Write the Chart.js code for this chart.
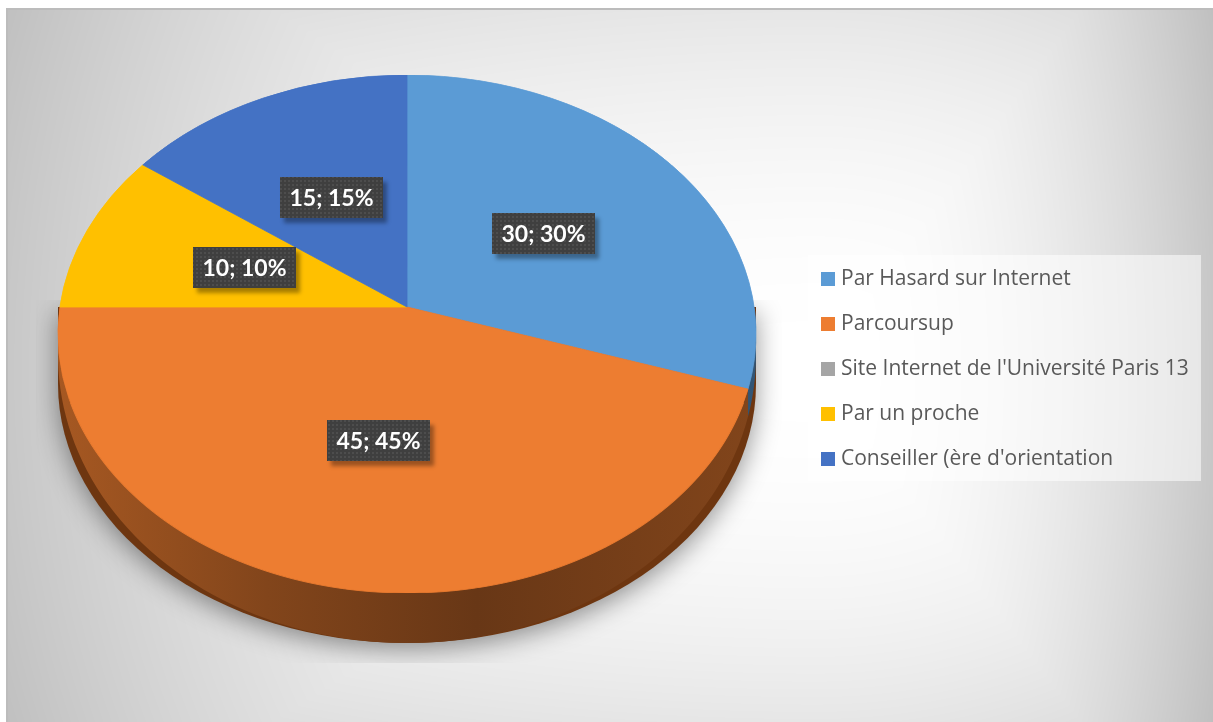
<!DOCTYPE html>
<html>
<head>
<meta charset="utf-8">
<script src="https://cdn.jsdelivr.net/npm/chart.js@4.4.1/dist/chart.umd.min.js"></script>
<style>
  html, body { margin: 0; padding: 0; background: #fff; }
  #wrap { position: relative; width: 1213px; height: 722px; overflow: hidden; }
  #wrap canvas { position: absolute; left: 0; top: 0; }
  #legend {
    position: absolute; left: 808px; top: 255px; width: 393px; height: 226px;
    background: rgba(255,255,255,0.55); box-sizing: border-box; padding-top: 1px;
    font-family: "Open Sans", Lato, sans-serif; font-size: 21px; color: #595959;
  }
  #legend .item { height: 45px; line-height: 45px; position: relative; white-space: nowrap; }
  #legend .sw { position: absolute; left: 13px; top: 16px; width: 14px; height: 14px; }
  #legend .tx { position: absolute; left: 33px; top: -1px; }
</style>
</head>
<body>
<div id="wrap">
  <canvas id="chart" width="1213" height="722"></canvas>
  <div id="legend"></div>
</div>
<script>
// source categories and counts
const labels = ['Par Hasard sur Internet', 'Parcoursup', "Site Internet de l'Université Paris 13", 'Par un proche', "Conseiller (ère d'orientation"];
const values = [30, 45, 0, 10, 15];
const colors = ['#5b9bd5', '#ed7d31', '#a5a5a5', '#ffc000', '#4472c4'];

// tilted pie: slice vertex (VX, VY), rim ellipse centre CY with radii RX/RY,
// ASPECT = horizontal stretch of slice directions, DEPTH = front wall height
const VX = 407, VY = 307, CY = 334, RX = 349, RY = 259, ASPECT = 1.35, DEPTH = 50;

function shade(hex, f) {
  const n = parseInt(hex.slice(1), 16);
  const r = Math.round(((n >> 16) & 255) * f), g = Math.round(((n >> 8) & 255) * f), b = Math.round((n & 255) * f);
  return `rgb(${r},${g},${b})`;
}

// radius (in px, vertical units) of the projected disc at screen row y
function discScale(y) {
  const k = (y - CY) / RY;
  const X = RX * Math.sqrt(Math.max(0, 1 - k * k));
  return Math.sqrt((X / ASPECT) ** 2 + (y - VY) ** 2);
}

// point where the slice edge at canvas angle phi meets the rim
function rimPoint(phi) {
  const dx = ASPECT * Math.cos(phi), dy = Math.sin(phi), off = VY - CY;
  const A = dx * dx / (RX * RX) + dy * dy / (RY * RY);
  const B = 2 * off * dy / (RY * RY);
  const C = off * off / (RY * RY) - 1;
  const t = (-B + Math.sqrt(B * B - 4 * A * C)) / (2 * A);
  return [VX + t * dx, VY + t * dy];
}

// wall looks shorter toward the sides (farther from the viewer)
const wallDepth = (phi) => DEPTH * (0.35 + 0.65 * Math.max(0, Math.sin(phi)));

function paintBackground(ctx, W, H) {
  const img = ctx.createImageData(W, H);
  const d = img.data;
  const cx = 815, cy = 372;
  for (let y = 0; y < H; y++) {
    for (let x = 0; x < W; x++) {
      const i = (y * W + x) * 4;
      let v = 255;
      if (x >= 6 && y >= 8) {
        const dx = x - cx, dy = y - cy;
        const tx = dx < 0 ? -dx / 805 : dx / 395;
        const ty = dy < 0 ? -dy / 364 : dy / 350;
        const a = 55 * tx * tx, b = 25 * ty * ty;
        v = 255 - (Math.max(a, b) + 0.3 * Math.min(a, b));
        if (y < 10 || x < 8) v = 188;
      }
      d[i] = d[i + 1] = d[i + 2] = v;
      d[i + 3] = 255;
    }
  }
  ctx.putImageData(img, 0, 0);
}

let dotPattern = null;
function getPattern(ctx) {
  if (dotPattern) return dotPattern;
  const c = document.createElement('canvas');
  c.width = 4; c.height = 4;
  const p = c.getContext('2d');
  p.fillStyle = '#3f3f3f'; p.fillRect(0, 0, 4, 4);
  p.fillStyle = '#4d4d4d'; p.fillRect(0, 0, 2, 2);
  dotPattern = ctx.createPattern(c, 'repeat');
  return dotPattern;
}

const pie3d = {
  id: 'pie3d',
  beforeDraw(chart) {
    paintBackground(chart.ctx, chart.width, chart.height);
  },
  beforeDatasetsDraw(chart) {
    const ctx = chart.ctx;
    const arcs = chart.getDatasetMeta(0).data;
    const a0 = arcs[0];
    const R = a0.outerRadius;

    // soft shadow under the disc, clipped like the plot area
    ctx.save();
    ctx.beginPath(); ctx.rect(36, 300, 746, 363); ctx.clip();
    ctx.shadowColor = 'rgba(0,0,0,0.42)';
    ctx.shadowBlur = 26; ctx.shadowOffsetY = 6;
    ctx.fillStyle = '#6e3610';
    ctx.beginPath();
    ctx.ellipse(VX, CY + DEPTH, RX, RY, 0, 0, Math.PI);
    ctx.lineTo(VX - RX, VY);
    ctx.lineTo(VX + RX, VY);
    ctx.closePath();
    ctx.fill();
    ctx.restore();

    // side walls for the front half (canvas angles 0..PI)
    arcs.forEach((arc, i) => {
      if (!values[i]) return;
      const s = Math.max(arc.startAngle, 0), e = Math.min(arc.endAngle, Math.PI);
      if (e <= s) return;
      const g = ctx.createLinearGradient(VX - RX, 0, VX + RX, 0);
      g.addColorStop(0, shade(colors[i], 0.7));
      g.addColorStop(0.3, shade(colors[i], 0.55));
      g.addColorStop(0.6, shade(colors[i], 0.44));
      g.addColorStop(1, shade(colors[i], 0.55));
      const steps = 90, top = [];
      for (let k = 0; k <= steps; k++) {
        const phi = s + (e - s) * k / steps;
        top.push([...rimPoint(phi), wallDepth(phi)]);
      }
      ctx.save();
      ctx.fillStyle = g;
      ctx.beginPath();
      top.forEach(([x, y], k) => k ? ctx.lineTo(x, y) : ctx.moveTo(x, y));
      for (let k = steps; k >= 0; k--) ctx.lineTo(top[k][0], top[k][1] + top[k][2]);
      ctx.closePath();
      ctx.fill();
      ctx.restore();
    });

    // top face: draw the library's arcs row by row, each row scaled so the
    // rim follows the perspective ellipse while slice edges stay straight
    for (let y = Math.floor(CY - RY); y < Math.ceil(CY + RY); y++) {
      const sR = discScale(y + 0.5);
      if (sR < 0.5) continue;
      ctx.save();
      ctx.beginPath(); ctx.rect(0, y, chart.width, 1); ctx.clip();
      ctx.translate(VX, VY);
      ctx.scale(ASPECT * sR / R, sR / R);
      ctx.translate(-a0.x, -a0.y);
      arcs.forEach(a => a.draw(ctx));
      ctx.restore();
    }
    return false;
  },
  afterDraw(chart) {
    const ctx = chart.ctx;
    const arcs = chart.getDatasetMeta(0).data;
    const R = arcs[0].outerRadius;
    const total = values.reduce((s, v) => s + v, 0);
    arcs.forEach((arc, i) => {
      if (!values[i]) return;
      const p = arc.tooltipPosition(true);
      const u = (p.x - arc.x) / R, w = (p.y - arc.y) / R;
      let cy = VY + w * 250;
      for (let k = 0; k < 6; k++) cy = VY + w * discScale(cy);
      const cx = VX + ASPECT * discScale(cy) * u;
      const text = `${values[i]}; ${Math.round(values[i] / total * 100)}%`;
      ctx.save();
      ctx.font = 'bold 23px Lato';
      const bw = Math.round(ctx.measureText(text).width + 19), bh = 41;
      const x0 = Math.round(cx - bw / 2), y0 = Math.round(cy - bh / 2);
      ctx.shadowColor = 'rgba(0,0,0,0.35)';
      ctx.shadowBlur = 4; ctx.shadowOffsetX = 4; ctx.shadowOffsetY = 5;
      ctx.fillStyle = '#404040';
      ctx.fillRect(x0, y0, bw, bh);
      ctx.shadowColor = 'transparent';
      ctx.fillStyle = getPattern(ctx);
      ctx.fillRect(x0, y0, bw, bh);
      ctx.fillStyle = '#ffffff';
      ctx.textAlign = 'center';
      ctx.textBaseline = 'middle';
      ctx.fillText(text, x0 + bw / 2, y0 + bh / 2 + 1);
      ctx.restore();
    });
  }
};

new Chart(document.getElementById('chart'), {
  type: 'pie',
  data: {
    labels,
    datasets: [{
      data: values,
      backgroundColor: colors,
      borderColor: colors,
      borderWidth: 1,
    }],
  },
  options: {
    responsive: false,
    animation: false,
    events: [],
    plugins: {
      legend: { display: false },
      tooltip: { enabled: false },
    },
  },
  plugins: [pie3d],
});

const legend = document.getElementById('legend');
labels.forEach((l, i) => {
  const row = document.createElement('div');
  row.className = 'item';
  row.innerHTML = `<span class="sw" style="background:${colors[i]}"></span><span class="tx"></span>`;
  row.querySelector('.tx').textContent = l;
  legend.appendChild(row);
});
</script>
</body>
</html>
